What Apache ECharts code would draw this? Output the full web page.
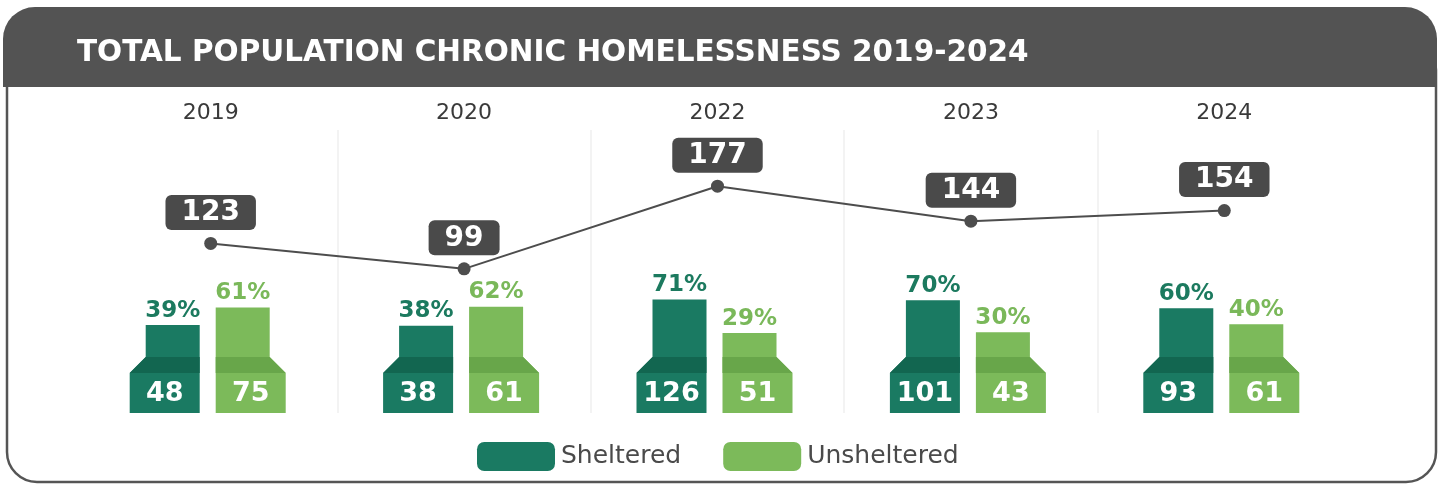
<!DOCTYPE html>
<html>
<head>
<meta charset="utf-8">
<script src="https://cdn.jsdelivr.net/npm/echarts@6/dist/echarts.min.js"></script>
<style>
html, body { margin: 0; padding: 0; background: #fff; }
#chart { width: 1446px; height: 485px; }
</style>
</head>
<body>
<div id="chart"></div>
<script>
// chart data
var years = ['2019', '2020', '2022', '2023', '2024'];
var sheltered = [48, 38, 126, 101, 93];
var unsheltered = [75, 61, 51, 43, 61];
var shelteredPct = [39, 38, 71, 70, 60];
var unshelteredPct = [61, 62, 29, 30, 40];
var totals = [123, 99, 177, 144, 154];

var FONT = '"DejaVu Sans", sans-serif';
var PCT_MIN = -71;

// side -1 = left bar (bevel on left), 1 = right bar (bevel on right)
function chairBar(side, main, band, labelColor) {
    return function (params, api) {
        var idx = api.value(0);
        var top = api.coord([idx, api.value(1)]);
        var base = api.coord([idx, PCT_MIN])[1];
        var cx = top[0] - 3;
        var inner = cx + side * 8;
        var upOuter = cx + side * 62;
        var lowOuter = cx + side * 78;
        var y1 = base - 56, y2 = base - 40;
        return {
            type: 'group',
            children: [
                {
                    type: 'polygon',
                    shape: { points: [[inner, top[1]], [upOuter, top[1]], [upOuter, y1], [lowOuter, y2], [lowOuter, base], [inner, base]] },
                    style: { fill: main }
                },
                {
                    type: 'polygon',
                    shape: { points: [[inner, y1], [upOuter, y1], [lowOuter, y2], [inner, y2]] },
                    style: { fill: band }
                },
                {
                    type: 'text',
                    style: {
                        text: api.value(1) + '%', x: (inner + upOuter) / 2, y: top[1] - 3,
                        fill: labelColor, font: 'bold 23px ' + FONT, align: 'center', verticalAlign: 'bottom'
                    }
                },
                {
                    type: 'text',
                    style: {
                        text: String(api.value(2)), x: (inner + lowOuter) / 2, y: (y2 + base) / 2 + 1,
                        fill: '#fff', font: 'bold 27px ' + FONT, align: 'center', verticalAlign: 'middle'
                    }
                }
            ]
        };
    };
}

var myChart = echarts.init(document.getElementById('chart'));
var option = {
    animation: false,
    title: {
        text: 'TOTAL POPULATION CHRONIC HOMELESSNESS 2019-2024',
        left: 72,
        top: 33,
        textStyle: { color: '#fff', fontSize: 29.5, fontWeight: 'bold', fontFamily: FONT }
    },
    graphic: [
        {
            type: 'rect', z: -10,
            shape: { x: 7, y: 40, width: 1429, height: 442, r: 30 },
            style: { fill: 'none', stroke: '#555', lineWidth: 2.5 }
        },
        {
            type: 'rect', z: -5,
            shape: { x: 3, y: 7, width: 1434, height: 80, r: [32, 32, 0, 0] },
            style: { fill: '#535353' }
        }
    ],
    legend: {
        data: ['Sheltered', 'Unsheltered'],
        left: 472,
        top: 437,
        icon: 'roundRect',
        itemWidth: 78,
        itemHeight: 29,
        itemGap: 42,
        selectedMode: false,
        textStyle: { color: '#4a4a4a', fontSize: 25, fontFamily: FONT, padding: [0, 0, 0, 1] }
    },
    grid: { left: 84, right: 95, top: 130, bottom: 72 },
    xAxis: {
        type: 'category',
        position: 'top',
        data: years,
        axisLine: { show: false },
        axisTick: { show: false },
        axisLabel: { color: '#3a3a3a', fontSize: 22, fontFamily: FONT, margin: 6 },
        splitLine: { show: true, showMinLine: false, showMaxLine: false, lineStyle: { color: '#f3f3f3', width: 2 } }
    },
    yAxis: [
        { type: 'value', min: PCT_MIN, max: 283, show: false },
        { type: 'value', min: -37, max: 230, show: false }
    ],
    series: [
        {
            name: 'Sheltered',
            type: 'custom',
            yAxisIndex: 0,
            itemStyle: { color: '#1a7a62' },
            renderItem: chairBar(-1, '#1a7a62', '#126650', '#1c7a5f'),
            encode: { x: 0, y: 1 },
            data: years.map(function (y, i) { return [i, shelteredPct[i], sheltered[i]]; })
        },
        {
            name: 'Unsheltered',
            type: 'custom',
            yAxisIndex: 0,
            itemStyle: { color: '#7cba5a' },
            renderItem: chairBar(1, '#7cba5a', '#68a64a', '#7ab85a'),
            encode: { x: 0, y: 1 },
            data: years.map(function (y, i) { return [i, unshelteredPct[i], unsheltered[i]]; })
        },
        {
            name: 'Total',
            type: 'line',
            yAxisIndex: 1,
            data: totals,
            symbol: 'circle',
            symbolSize: 13,
            lineStyle: { color: '#4d4d4d', width: 2 },
            itemStyle: { color: '#4d4d4d' },
            label: {
                show: true,
                position: 'top',
                distance: 7,
                formatter: '{c}',
                color: '#fff',
                fontSize: 28,
                fontWeight: 'bold',
                fontFamily: FONT,
                lineHeight: 30,
                backgroundColor: '#4a4a4a',
                borderRadius: 6,
                padding: [3, 16, 2, 16]
            }
        }
    ]
};
myChart.setOption(option);
</script>
</body>
</html>
